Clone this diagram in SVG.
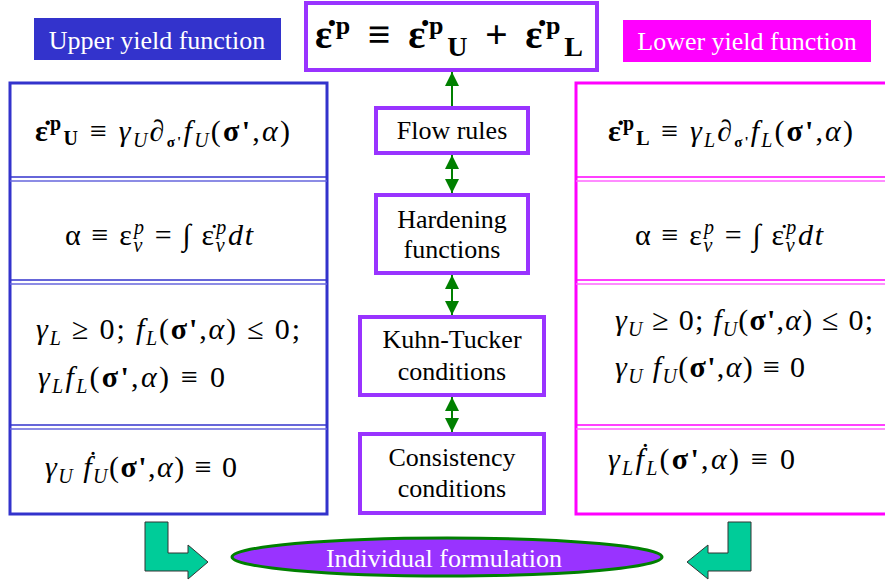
<svg xmlns="http://www.w3.org/2000/svg" width="885" height="585" viewBox="0 0 885 585">
<rect width="885" height="585" fill="#fff"/>
<defs>
<marker id="ah" viewBox="0 0 10 10" refX="10" refY="5" markerWidth="14" markerHeight="14" markerUnits="userSpaceOnUse" orient="auto-start-reverse">
<path d="M0,0 L10,5 L0,10 z" fill="#008000"/>
</marker>
</defs>

<g id="upper-label">
<rect x="34" y="18" width="247" height="42" fill="#3333CC"/>
<text font-family="Liberation Serif, Times New Roman, serif" font-size="26" fill="#fff" text-anchor="middle" x="157" y="49">Upper yield function</text>
</g>
<g id="lower-label">
<rect x="623" y="20" width="248" height="42" fill="#FF00FF"/>
<text font-family="Liberation Serif, Times New Roman, serif" font-size="26" fill="#fff" text-anchor="middle" x="747" y="50">Lower yield function</text>
</g>

<g id="total-rate">
<rect x="306" y="3" width="291" height="67" fill="#fff" stroke="#9933FF" stroke-width="4"/>
<text font-family="Liberation Serif, Times New Roman, serif" x="315" y="48" font-size="40" font-weight="bold" textLength="268">ε̇<tspan font-size="26" baseline-shift="14">p</tspan> ≡ ε̇<tspan font-size="26" baseline-shift="14">p</tspan><tspan font-size="28" baseline-shift="-8">U</tspan> + ε̇<tspan font-size="26" baseline-shift="14">p</tspan><tspan font-size="28" baseline-shift="-8">L</tspan></text>
</g>

<g id="upper-box">
<rect x="10" y="83" width="317" height="431" fill="#fff" stroke="#3333CC" stroke-width="3"/>
<g stroke="#3333CC" stroke-width="1.5">
<line x1="10" y1="177" x2="327" y2="177"/><line x1="10" y1="181" x2="327" y2="181" stroke="#6666DD"/>
<line x1="10" y1="280" x2="327" y2="280"/><line x1="10" y1="284" x2="327" y2="284" stroke="#6666DD"/>
<line x1="10" y1="425" x2="327" y2="425"/><line x1="10" y1="429" x2="327" y2="429" stroke="#6666DD"/>
</g>
<g font-family="Liberation Serif, Times New Roman, serif" font-size="30" fill="#000">
<text x="35" y="141" textLength="255"><tspan font-weight="bold">ε̇</tspan><tspan font-weight="bold" font-size="20" baseline-shift="11">p</tspan><tspan font-weight="bold" font-size="20" baseline-shift="-4">U</tspan> ≡ <tspan font-style="italic">γ</tspan><tspan font-style="italic" font-size="20" baseline-shift="-6">U</tspan><tspan font-style="italic">∂</tspan><tspan font-weight="bold" font-size="15" baseline-shift="-6">σ'</tspan><tspan font-style="italic">f</tspan><tspan font-style="italic" font-size="20" baseline-shift="-6">U</tspan>(<tspan font-weight="bold">σ'</tspan>,<tspan font-style="italic">α</tspan>)</text>
<text x="65" y="245" textLength="188">α ≡ ε<tspan font-style="italic" font-size="20" baseline-shift="-7">v</tspan><tspan font-style="italic" font-size="20" dx="-10" baseline-shift="11">p</tspan> = ∫ ε̇<tspan font-style="italic" font-size="20" baseline-shift="-7">v</tspan><tspan font-style="italic" font-size="20" dx="-10" baseline-shift="11">p</tspan><tspan font-style="italic">dt</tspan></text>
<text x="36" y="339" textLength="264"><tspan font-style="italic">γ</tspan><tspan font-style="italic" font-size="20" baseline-shift="-6">L</tspan> ≥ 0; <tspan font-style="italic">f</tspan><tspan font-style="italic" font-size="20" baseline-shift="-6">L</tspan>(<tspan font-weight="bold">σ'</tspan>,<tspan font-style="italic">α</tspan>) ≤ 0;</text>
<text x="38" y="387" textLength="187"><tspan font-style="italic">γ</tspan><tspan font-style="italic" font-size="20" baseline-shift="-6">L</tspan><tspan font-style="italic">f</tspan><tspan font-style="italic" font-size="20" baseline-shift="-6">L</tspan>(<tspan font-weight="bold">σ'</tspan>,<tspan font-style="italic">α</tspan>) ≡ 0</text>
<text x="45" y="477" textLength="192"><tspan font-style="italic">γ</tspan><tspan font-style="italic" font-size="20" baseline-shift="-6">U</tspan> <tspan font-style="italic">ḟ</tspan><tspan font-style="italic" font-size="20" baseline-shift="-6">U</tspan>(<tspan font-weight="bold">σ'</tspan>,<tspan font-style="italic">α</tspan>) ≡ 0</text>
</g>
</g>

<g id="lower-box">
<rect x="576" y="83" width="320" height="431" fill="#fff" stroke="#FF00FF" stroke-width="3"/>
<g stroke="#FF00FF" stroke-width="1.5">
<line x1="576" y1="177" x2="885" y2="177"/><line x1="576" y1="181" x2="885" y2="181" stroke="#FF66FF"/>
<line x1="576" y1="280" x2="885" y2="280"/><line x1="576" y1="284" x2="885" y2="284" stroke="#FF66FF"/>
<line x1="576" y1="425" x2="885" y2="425"/><line x1="576" y1="429" x2="885" y2="429" stroke="#FF66FF"/>
</g>
<g font-family="Liberation Serif, Times New Roman, serif" font-size="30" fill="#000">
<text x="608" y="141" textLength="245"><tspan font-weight="bold">ε̇</tspan><tspan font-weight="bold" font-size="20" baseline-shift="11">p</tspan><tspan font-weight="bold" font-size="20" baseline-shift="-4">L</tspan> ≡ <tspan font-style="italic">γ</tspan><tspan font-style="italic" font-size="20" baseline-shift="-6">L</tspan><tspan font-style="italic">∂</tspan><tspan font-weight="bold" font-size="15" baseline-shift="-6">σ'</tspan><tspan font-style="italic">f</tspan><tspan font-style="italic" font-size="20" baseline-shift="-6">L</tspan>(<tspan font-weight="bold">σ'</tspan>,<tspan font-style="italic">α</tspan>)</text>
<text x="635" y="245" textLength="188">α ≡ ε<tspan font-style="italic" font-size="20" baseline-shift="-7">v</tspan><tspan font-style="italic" font-size="20" dx="-10" baseline-shift="11">p</tspan> = ∫ ε̇<tspan font-style="italic" font-size="20" baseline-shift="-7">v</tspan><tspan font-style="italic" font-size="20" dx="-10" baseline-shift="11">p</tspan><tspan font-style="italic">dt</tspan></text>
<text x="615" y="330" textLength="258"><tspan font-style="italic">γ</tspan><tspan font-style="italic" font-size="20" baseline-shift="-6">U</tspan> ≥ 0; <tspan font-style="italic">f</tspan><tspan font-style="italic" font-size="20" baseline-shift="-6">U</tspan>(<tspan font-weight="bold">σ'</tspan>,<tspan font-style="italic">α</tspan>) ≤ 0;</text>
<text x="615" y="377" textLength="190"><tspan font-style="italic">γ</tspan><tspan font-style="italic" font-size="20" baseline-shift="-6">U</tspan> <tspan font-style="italic">f</tspan><tspan font-style="italic" font-size="20" baseline-shift="-6">U</tspan>(<tspan font-weight="bold">σ'</tspan>,<tspan font-style="italic">α</tspan>) ≡ 0</text>
<text x="608" y="469" textLength="187"><tspan font-style="italic">γ</tspan><tspan font-style="italic" font-size="20" baseline-shift="-6">L</tspan><tspan font-style="italic">ḟ</tspan><tspan font-style="italic" font-size="20" baseline-shift="-6">L</tspan>(<tspan font-weight="bold">σ'</tspan>,<tspan font-style="italic">α</tspan>) ≡ 0</text>
</g>
</g>

<g id="flow-rules">
<rect x="376" y="108" width="152" height="45" fill="#fff" stroke="#9933FF" stroke-width="4"/>
<text font-family="Liberation Serif, Times New Roman, serif" font-size="26" text-anchor="middle" x="452" y="139">Flow rules</text>
</g>
<g id="hardening">
<rect x="376" y="195" width="152" height="78" fill="#fff" stroke="#9933FF" stroke-width="4"/>
<text font-family="Liberation Serif, Times New Roman, serif" font-size="26" text-anchor="middle" x="452" y="228">Hardening</text>
<text font-family="Liberation Serif, Times New Roman, serif" font-size="26" text-anchor="middle" x="452" y="258">functions</text>
</g>
<g id="kuhn-tucker">
<rect x="360" y="317" width="184" height="78" fill="#fff" stroke="#9933FF" stroke-width="4"/>
<text font-family="Liberation Serif, Times New Roman, serif" font-size="26" text-anchor="middle" x="452" y="348">Kuhn-Tucker</text>
<text font-family="Liberation Serif, Times New Roman, serif" font-size="26" text-anchor="middle" x="452" y="380">conditions</text>
</g>
<g id="consistency">
<rect x="360" y="434" width="184" height="79" fill="#fff" stroke="#9933FF" stroke-width="4"/>
<text font-family="Liberation Serif, Times New Roman, serif" font-size="26" text-anchor="middle" x="452" y="466">Consistency</text>
<text font-family="Liberation Serif, Times New Roman, serif" font-size="26" text-anchor="middle" x="452" y="497">conditions</text>
</g>

<g id="individual">
<ellipse cx="447" cy="557" rx="215" ry="19" fill="#9933FF" stroke="#008000" stroke-width="3"/>
<text font-family="Liberation Serif, Times New Roman, serif" font-size="26" fill="#fff" text-anchor="middle" x="444" y="567">Individual formulation</text>
</g>

<g id="connectors" stroke="#008000" stroke-width="2" fill="none">
<line x1="452" y1="106" x2="452" y2="72" marker-end="url(#ah)"/>
<line x1="452" y1="155" x2="452" y2="193" marker-start="url(#ah)" marker-end="url(#ah)"/>
<line x1="452" y1="275" x2="452" y2="315" marker-start="url(#ah)" marker-end="url(#ah)"/>
<line x1="452" y1="397" x2="452" y2="432" marker-start="url(#ah)" marker-end="url(#ah)"/>
<path d="M145,522 H168 V553 H188 V545 L208,562 L188,579 V571 H145 Z" fill="#00CC99" stroke="#333" stroke-width="1"/>
<path d="M751,522 H728 V553 H708 V545 L687,562 L708,579 V571 H751 Z" fill="#00CC99" stroke="#333" stroke-width="1"/>
</g>
</svg>
